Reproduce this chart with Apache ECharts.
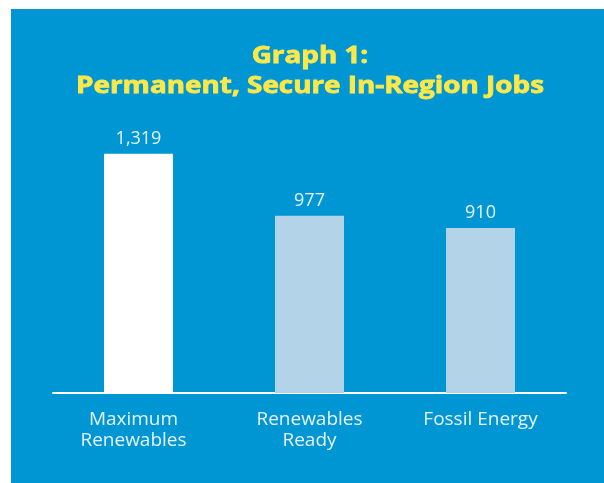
<!DOCTYPE html>
<html>
<head>
<meta charset="utf-8">
<script src="https://cdn.jsdelivr.net/npm/echarts@6/dist/echarts.min.js"></script>
<style>
html,body{margin:0;padding:0;background:#ffffff;}
#chart{width:604px;height:483px;}
</style>
</head>
<body>
<div id="chart"></div>
<script>
const categories = ['Maximum\nRenewables', 'Renewables\nReady', 'Fossil Energy'];
const jobs = [1319, 977, 910];
const barColors = ['#ffffff', '#b3d3e8', '#b3d3e8'];
const titleLines = ['Graph 1:', 'Permanent, Secure In-Region Jobs'];

const chart = echarts.init(document.getElementById('chart'), null, {renderer: 'canvas'});
chart.setOption({
  backgroundColor: '#ffffff',
  animation: false,
  graphic: [{
    type: 'rect', z: -10, silent: true,
    shape: {x: 11, y: 9, width: 600, height: 480},
    style: {fill: '#0096d3'}
  }, {
    type: 'text', x: 310, y: 41, scaleX: 1.16, silent: true,
    style: {
      text: titleLines.join('\n'),
      font: 'bold 24px "Open Sans"',
      lineHeight: 30, fill: '#fde84a',
      stroke: '#fde84a', lineWidth: 0.8,
      align: 'center', verticalAlign: 'top'
    }
  }],
  grid: {left: 53, right: 38, top: 121, bottom: 90, containLabel: false},
  xAxis: {
    type: 'category',
    data: categories.map((c, i) => i === 0 ? {value: c, textStyle: {padding: [0, 10, 0, 0]}} : c),
    axisLine: {lineStyle: {color: '#ffffff', width: 2}},
    axisTick: {show: false},
    axisLabel: {
      color: '#e6f3fa', fontFamily: 'Open Sans', fontSize: 19, lineHeight: 21,
      margin: 16, interval: 0
    }
  },
  yAxis: {
    type: 'value', min: 0, max: 1500, show: false,
    splitLine: {show: false}
  },
  series: [{
    type: 'bar', barWidth: 69,
    data: jobs.map((v, i) => ({value: v, itemStyle: {color: barColors[i]}})),
    label: {
      show: true, position: 'top', distance: 6,
      color: '#e6f3fa', fontFamily: 'Open Sans', fontSize: 18,
      formatter: p => p.value.toLocaleString('en-US')
    }
  }]
});
</script>
</body>
</html>
